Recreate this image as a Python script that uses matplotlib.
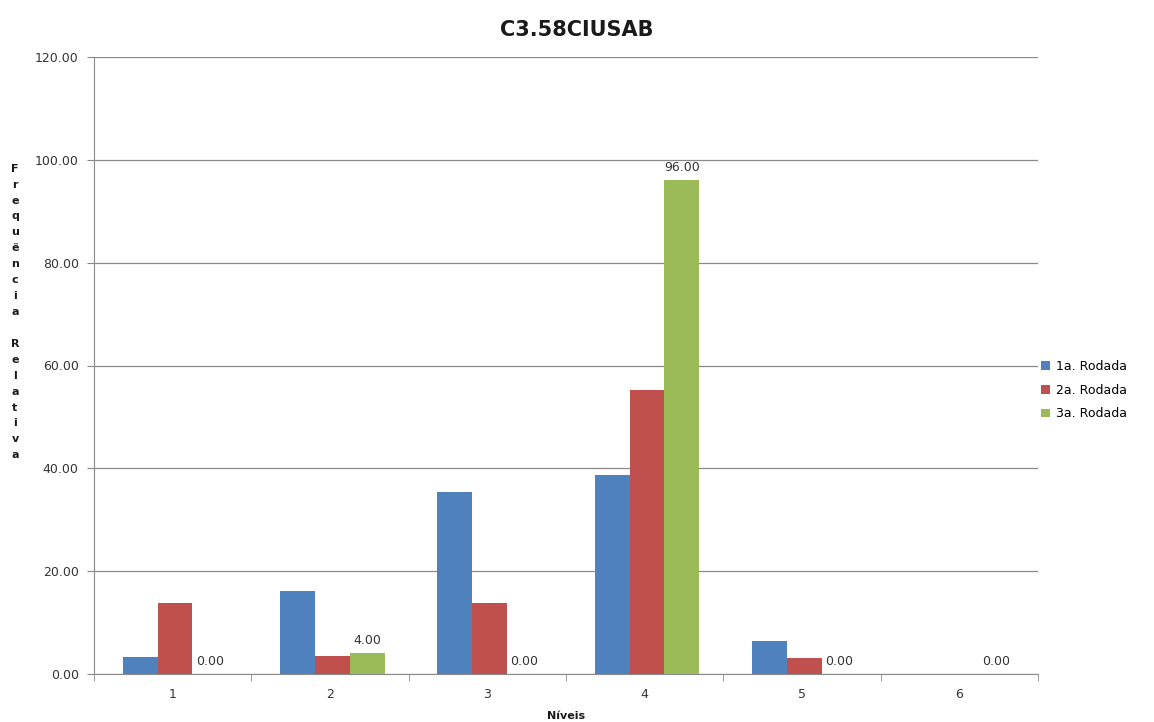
import numpy as np
import matplotlib.pyplot as plt

# frequências relativas por nível, uma série por rodada
niveis = ["1", "2", "3", "4", "5", "6"]
rodada1 = [3.23, 16.13, 35.48, 38.71, 6.45, 0.0]
rodada2 = [13.79, 3.45, 13.79, 55.17, 3.2, 0.0]
rodada3 = [0.0, 4.0, 0.0, 96.0, 0.0, 0.0]
series = ["1a. Rodada", "2a. Rodada", "3a. Rodada"]
cores = ["#4F81BD", "#C0504D", "#9BBB59"]

plt.rcParams['font.family'] = ['DejaVu Sans']

fig = plt.figure(figsize=(11.54, 7.22), dpi=100)
ax = fig.add_axes([94/1154, 48/722, (1038-94)/1154, (674-57)/722])

x = np.arange(len(niveis))
w = 0.222
for i, (vals, nome, cor) in enumerate(zip([rodada1, rodada2, rodada3], series, cores)):
    ax.bar(x + (i - 1) * w + 0.015, vals, width=w, color=cor, label=nome, zorder=3)

# rótulos de valor só na 3a. rodada
for xi, v in zip(x, rodada3):
    ax.text(xi + w + 0.015, v + 1.2, "%.2f" % v, ha='center', va='bottom',
            fontsize=9, color='#333333', zorder=4)

ax.set_xlim(-0.5, len(niveis) - 0.5)
ax.set_ylim(0, 120)
ax.set_yticks(np.arange(0, 121, 20))
ax.set_yticklabels(["%.2f" % t for t in np.arange(0, 121, 20)])
ax.yaxis.grid(True, color='#8a8a8a', linewidth=0.9, zorder=0)

ax.set_xticks(x)
ax.set_xticklabels(niveis)
ax.set_xticks(np.arange(-0.5, len(niveis)), minor=True)
ax.tick_params(axis='x', which='major', length=0, pad=10, labelsize=9, colors='#333333')
ax.tick_params(axis='x', which='minor', length=5, color='#8a8a8a', direction='out')
ax.tick_params(axis='y', length=5, color='#8a8a8a', labelsize=9, colors='#333333', pad=6)

for s in ['top', 'right']:
    ax.spines[s].set_visible(False)
for s in ['left', 'bottom']:
    ax.spines[s].set_color('#8a8a8a')

fig.text(0.5, 1 - 30/722, "C3.58CIUSAB", ha='center', va='center',
         fontsize=15, fontweight='bold', color='#1a1a1a')
fig.text(566/1154, 1 - 716/722, "Níveis", ha='center', va='center',
         fontsize=8, fontweight='bold', color='#1a1a1a')
fig.text(15/1154, 1 - 312/722, "\n".join("Frequëncia Relativa"), ha='center', va='center',
         fontsize=8, fontweight='bold', color='#1a1a1a', linespacing=1.74)

fig.legend(loc='upper left', bbox_to_anchor=(1030/1154, 1 - 349/722), frameon=False,
           fontsize=9, handlelength=0.7, handleheight=0.7, handletextpad=0.5,
           labelspacing=0.85)

fig.savefig("out.png", dpi=100)
